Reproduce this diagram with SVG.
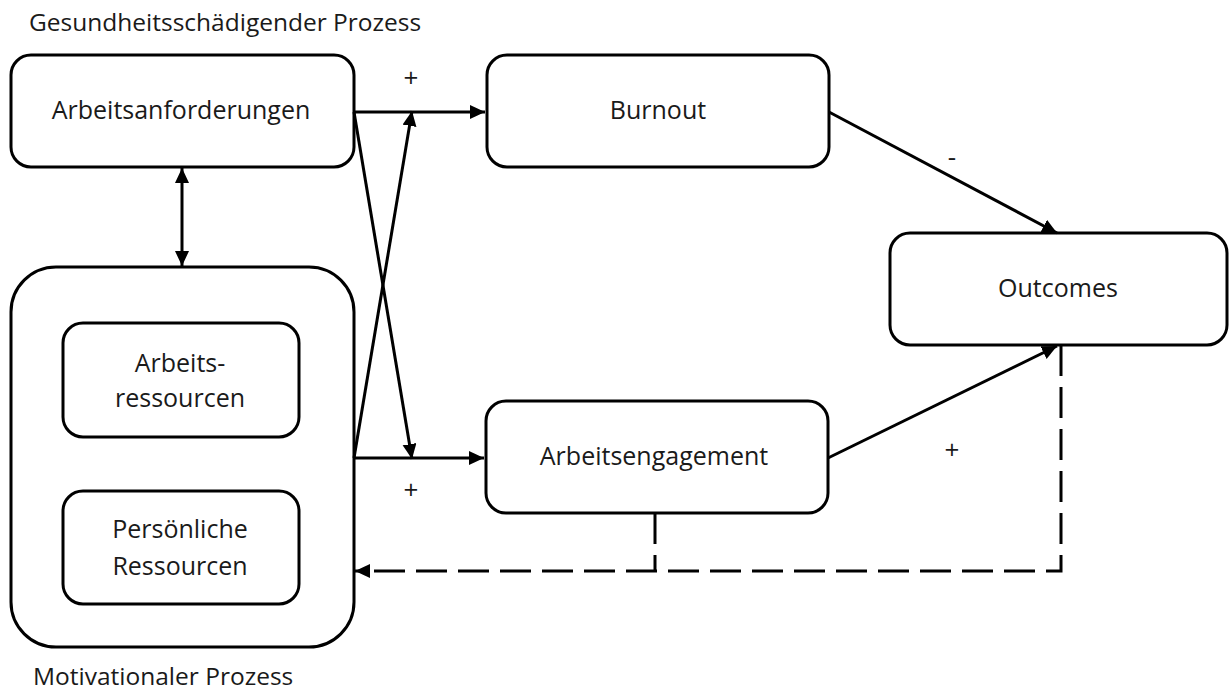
<svg xmlns="http://www.w3.org/2000/svg" width="1230" height="691" viewBox="0 0 1230 691">
  <style>
    .box{fill:#fff;stroke:#000;stroke-width:3}
    .lbl{font-family:"Open Sans","Liberation Sans",sans-serif;font-size:25px;fill:#1a1a1a;text-anchor:middle}
    .cap{font-family:"Open Sans","Liberation Sans",sans-serif;font-size:24.5px;fill:#1a1a1a}
    .sign{font-family:"Open Sans","Liberation Sans",sans-serif;font-size:26px;fill:#1a1a1a;text-anchor:middle}
    .edge{stroke:#000;stroke-width:3;fill:none}
    .dash{stroke-dasharray:31 11}
  </style>
  <defs>
    <marker id="arrow" markerUnits="userSpaceOnUse" markerWidth="16" markerHeight="15" refX="15" refY="7" orient="auto-start-reverse">
      <path d="M0,0 L15,7 L0,14 z" fill="#000"/>
    </marker>
  </defs>

  <rect width="1230" height="691" fill="#fff"/>

  <!-- section captions -->
  <text class="cap" x="29" y="31">Gesundheitsschädigender Prozess</text>
  <text class="cap" x="33" y="685">Motivationaler Prozess</text>

  <!-- nodes -->
  <g id="arbeitsanforderungen">
    <rect class="box" x="11" y="55" width="343" height="112" rx="20"/>
    <text class="lbl" x="181" y="119">Arbeitsanforderungen</text>
  </g>
  <g id="burnout">
    <rect class="box" x="487" y="55" width="342" height="112" rx="20"/>
    <text class="lbl" x="658" y="119">Burnout</text>
  </g>
  <g id="outcomes">
    <rect class="box" x="890" y="233" width="337" height="112" rx="20"/>
    <text class="lbl" x="1058" y="297">Outcomes</text>
  </g>
  <g id="arbeitsengagement">
    <rect class="box" x="486" y="401" width="342" height="112" rx="20"/>
    <text class="lbl" x="654" y="465">Arbeitsengagement</text>
  </g>
  <g id="ressourcen">
    <rect class="box" x="11" y="267" width="343" height="380" rx="45"/>
    <g id="arbeitsressourcen">
      <rect class="box" x="63" y="323" width="236" height="114" rx="20"/>
      <text class="lbl" x="180" y="372">Arbeits-</text>
      <text class="lbl" x="180" y="407">ressourcen</text>
    </g>
    <g id="persoenliche-ressourcen">
      <rect class="box" x="63" y="491" width="236" height="113" rx="20"/>
      <text class="lbl" x="180" y="538">Persönliche</text>
      <text class="lbl" x="180" y="575">Ressourcen</text>
    </g>
  </g>

  <!-- connectors -->
  <g id="connectors">
    <line class="edge" x1="182" y1="168" x2="182" y2="266" marker-start="url(#arrow)" marker-end="url(#arrow)"/>
    <line class="edge" x1="354" y1="112" x2="485" y2="112" marker-end="url(#arrow)"/>
    <line class="edge" x1="354" y1="112" x2="412" y2="459" marker-end="url(#arrow)"/>
    <line class="edge" x1="354" y1="458" x2="412" y2="111" marker-end="url(#arrow)"/>
    <line class="edge" x1="354" y1="458" x2="484" y2="458" marker-end="url(#arrow)"/>
    <line class="edge" x1="829" y1="112" x2="1057" y2="233" marker-end="url(#arrow)"/>
    <line class="edge" x1="828" y1="458" x2="1057" y2="346" marker-end="url(#arrow)"/>
    <path class="edge dash" d="M1061,345 V571 H355" marker-end="url(#arrow)"/>
    <line class="edge dash" x1="655" y1="513" x2="655" y2="571"/>
  </g>

  <!-- edge signs -->
  <g id="signs">
    <text class="sign" x="411" y="87">+</text>
    <text class="sign" x="411" y="499">+</text>
    <text class="sign" x="952" y="166">-</text>
    <text class="sign" x="952" y="459">+</text>
  </g>
</svg>
